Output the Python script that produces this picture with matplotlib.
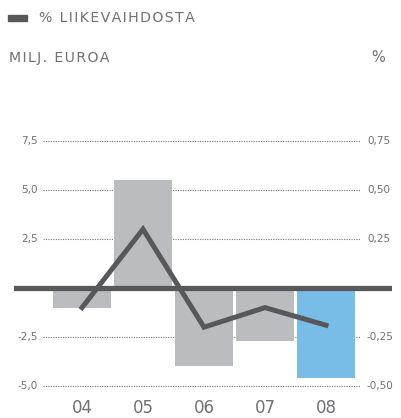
import matplotlib.pyplot as plt
import numpy as np

years = ['04', '05', '06', '07', '08']
result = [-1.0, 5.5, -4.0, -2.7, -4.6]          # milj. euroa
pct_of_sales = [-0.10, 0.30, -0.20, -0.10, -0.19]  # % liikevaihdosta
left_ticks = [7.5, 5.0, 2.5, -2.5, -5.0]
right_ticks = [0.75, 0.50, 0.25, -0.25, -0.50]

W, H = 401, 418
fig = plt.figure(figsize=(W / 100, H / 100), dpi=100)

# axes in pixel units
left_px, right_px, top_px, bottom_px = 14, 392, 100, 418
ax = fig.add_axes([left_px / W, 1 - bottom_px / H,
                   (right_px - left_px) / W, (bottom_px - top_px) / H])
ax.set_xlim(-1.115, 5.082)
y0, scale = 288, 19.6
ax.set_ylim(-(bottom_px - y0) / scale, (y0 - top_px) / scale)
ax.axis('off')

x = np.arange(len(years))
colors = ['#bbbcbf'] * 4 + ['#78bde8']
ax.bar(x, result, width=0.95, color=colors, zorder=2)

gx0, gx1 = (43 - left_px) / (right_px - left_px), (360 - left_px) / (right_px - left_px)
for t in left_ticks:
    ax.axhline(t, gx0, gx1, color='#777777', lw=0.8, ls=(0, (1, 1.2)), zorder=1)
ax.axhline(0, color='#58585a', lw=3.8, zorder=3)

tick_col = '#707174'
for t, r in zip(left_ticks, right_ticks):
    ax.text(-1.115 + (38 - left_px) / 61, t, f'{t:.1f}'.replace('.', ','),
            ha='right', va='center', fontsize=7.5, color=tick_col)
    ax.text(-1.115 + (367 - left_px) / 61, t, f'{r:.2f}'.replace('.', ','),
            ha='left', va='center', fontsize=7.5, color=tick_col)

for xi, lab in zip(x, years):
    ax.text(xi, -(408 - y0) / scale, lab, ha='center', va='center',
            fontsize=12, color=tick_col)

ax2 = ax.twinx()
lo, hi = ax.get_ylim()
ax2.set_ylim(lo / 10, hi / 10)
ax2.axis('off')
ax2.plot(x, pct_of_sales, color='#58585a', lw=3.6, solid_joinstyle='miter', zorder=4)


def spaced(s):
    return '\u200a'.join(s)


# header
fig.patches.append(plt.Rectangle((8 / W, 1 - 21 / H), 19 / W, 6 / H,
                                 transform=fig.transFigure, color='#58585a'))
fig.text(39 / W, 1 - 18 / H, spaced('% LIIKEVAIHDOSTA'), ha='left', va='center',
         fontsize=10.2, color=tick_col)
fig.text(9 / W, 1 - 58 / H, spaced('MILJ. EUROA'), ha='left', va='center',
         fontsize=10.2, color=tick_col)
fig.text(378 / W, 1 - 58 / H, '%', ha='center', va='center',
         fontsize=10.5, color=tick_col)

fig.savefig('out.png', dpi=100)
